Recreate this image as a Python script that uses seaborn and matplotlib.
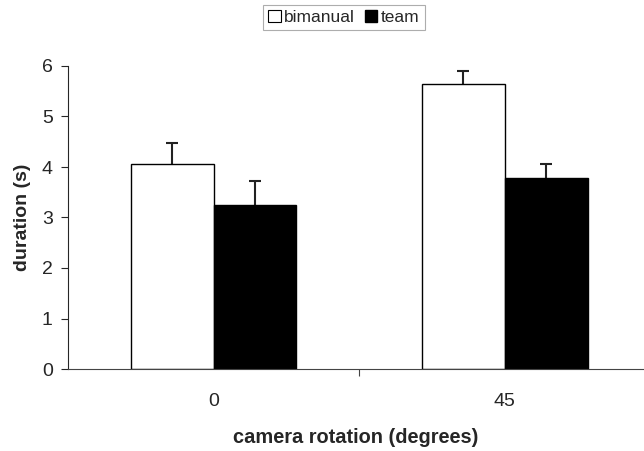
import matplotlib
matplotlib.use("Agg")
import pandas as pd
import matplotlib.pyplot as plt
import seaborn as sns
from matplotlib.patches import Patch

# data
rotations = ["0", "45"]
conditions = ["bimanual", "team"]
bimanual_mean = [4.05, 5.65]
team_mean = [3.25, 3.78]
bimanual_err = [0.43, 0.25]
team_err = [0.47, 0.27]

df = pd.DataFrame({
    "rotation": rotations * 2,
    "condition": [conditions[0]] * 2 + [conditions[1]] * 2,
    "duration": bimanual_mean + team_mean,
    "err": bimanual_err + team_err,
})

sns.set_theme(style="ticks")
plt.rcParams["font.family"] = ["Liberation Sans", "DejaVu Sans"]

fig = plt.figure(figsize=(6.44, 4.51), dpi=100)
ax = fig.add_axes([68 / 644, 82 / 451, 576 / 644, 303 / 451])

sns.barplot(
    data=df, x="rotation", y="duration", hue="condition",
    palette={"bimanual": "white", "team": "black"},
    width=0.57, edgecolor="black", linewidth=1.0,
    errorbar=None, legend=False, ax=ax, zorder=2,
)

# one-sided error bars on top of each bar (drawn behind the bars so the
# lower cap is hidden)
for patch, cond_rot in zip(ax.patches, [(c, r) for c in conditions for r in rotations]):
    row = df[(df["condition"] == cond_rot[0]) & (df["rotation"] == cond_rot[1])].iloc[0]
    xc = patch.get_x() + patch.get_width() / 2
    ax.errorbar(xc, row["duration"], yerr=[[0.1], [row["err"]]], fmt="none",
                ecolor="#222222", elinewidth=1.5, capsize=4, capthick=1.5, zorder=1)

ax.set_ylim(0, 6)
ax.set_yticks(range(0, 7))
ax.set_xlim(-0.5, 1.479)
ax.set_xticks([0, 1])
ax.set_xticks([0.5], minor=True)
ax.tick_params(axis="x", which="major", length=0, pad=17, labelsize=14)
ax.tick_params(axis="x", which="minor", length=5, width=0.8, color="#444444")
ax.tick_params(axis="y", length=5, width=0.8, labelsize=14, pad=6)
for s in ["top", "right"]:
    ax.spines[s].set_visible(False)
ax.spines["left"].set_linewidth(0.8)
ax.spines["bottom"].set_linewidth(0.8)
ax.spines["bottom"].set_color("#444444")

ax.set_xlabel("camera rotation (degrees)", fontsize=14.4, fontweight="bold", labelpad=13)
ax.set_ylabel("duration (s)", fontsize=14, fontweight="bold", labelpad=8)

handles = [Patch(facecolor="white", edgecolor="black", linewidth=0.8, label="bimanual"),
           Patch(facecolor="black", edgecolor="black", label="team")]
leg = fig.legend(handles=handles, loc="upper center", bbox_to_anchor=(344 / 644, 0.99),
                 ncol=2, fontsize=12.5, frameon=True, fancybox=False, edgecolor="#999999",
                 handlelength=0.7, handleheight=0.7, handletextpad=0.2,
                 columnspacing=0.6, borderpad=0.3, borderaxespad=0)
leg.get_frame().set_linewidth(0.8)

fig.savefig("out.png", dpi=100)
